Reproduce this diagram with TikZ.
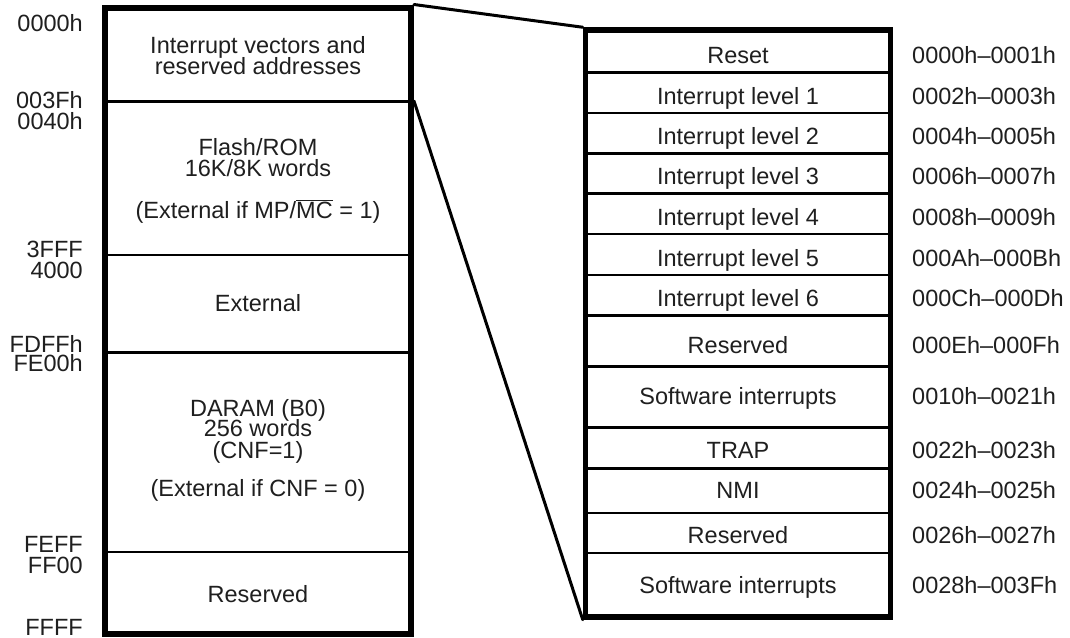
\documentclass[tikz,border=0pt]{standalone}
\usepackage{fontspec}
\setmainfont{Liberation Sans}
\begin{document}
\begin{tikzpicture}[x=1pt,y=-1pt,
  box/.style={draw=black, inner sep=0pt, fill=none},
  txt/.style={font=\fontsize{23.5}{26}\selectfont, text=black!88, inner sep=0pt, text height=17pt, text depth=0pt},
  lab/.style={txt, anchor=east},
  adr/.style={txt, anchor=west},
  thickdiv/.style={line width=3pt},
  thindiv/.style={line width=1.6pt},
  conn/.style={line width=3pt, line cap=round}]
\useasboundingbox (0,0) rectangle (1070,637);

% memory boxes
\node[box, line width=6pt, minimum width=306pt, minimum height=626.5pt] (L) at (258,320.75) {};
\node[box, line width=5.5pt, minimum width=305pt, minimum height=587pt] (R) at (738,323.5) {};

% left dividers
\path (0,101) coordinate (yA) (0,255) coordinate (yB) (0,352) coordinate (yC) (0,552) coordinate (yD);
\coordinate (dAw) at (L.west |- yA); \coordinate (dAe) at (L.east |- yA);
\draw[thickdiv] (dAw) -- (dAe);
\draw[thindiv] (L.west |- yB) -- (L.east |- yB);
\draw[thickdiv] (L.west |- yC) -- (L.east |- yC);
\draw[thindiv] (L.west |- yD) -- (L.east |- yD);

% right dividers
\foreach \y/\s in {72/thickdiv,113/thindiv,153/thickdiv,193/thickdiv,234/thindiv,275/thindiv,315/thickdiv,366/thickdiv,427/thickdiv,468/thickdiv,513/thindiv,553/thindiv}{
  \path (0,\y) coordinate (ry);
  \draw[\s] (R.west |- ry) -- (R.east |- ry);
}

% connectors
\draw[conn] (L.north east) -- (R.north west);
\draw[conn] (dAe) -- (R.south west);

% left address labels
\node[lab] (l1) at (83,23) {0000h};
\node[lab] (l2) at (83,100) {003Fh};
\node[lab] (l3) at (83,121) {0040h};
\node[lab] (l4) at (83,249) {3FFF};
\node[lab] (l5) at (83,270) {4000};
\node[lab] (l6) at (83,344) {FDFFh};
\node[lab] (l7) at (83,363) {FE00h};
\node[lab] (l8) at (83,544) {FEFF};
\node[lab] (l9) at (83,565) {FF00};
\node[lab] (l10) at (83,627) {FFFF};

% left box texts
\node[txt] (t1) at (258,45) {Interrupt vectors and};
\node[txt] (t2) at (258,65.5) {reserved addresses};
\node[txt] (t3) at (258,146.5) {Flash/ROM};
\node[txt] (t4) at (258,167.5) {16K/8K words};
\node[txt] (t5) at (258,209.5) {(External if MP/\(\overline{\hbox{MC}}\) = 1)};
\node[txt] (t6) at (258,303) {External};
\node[txt] (t7) at (258,407.5) {DARAM (B0)};
\node[txt] (t8) at (258,428) {256 words};
\node[txt] (t9) at (258,449.5) {(CNF=1)};
\node[txt] (t10) at (258,488) {(External if CNF = 0)};
\node[txt] (t11) at (258,593.5) {Reserved};

% right box texts and addresses
\foreach \n/\y/\a/\b in {
  1/54.5/Reset/0000h--0001h,
  2/96/Interrupt level 1/0002h--0003h,
  3/135.5/Interrupt level 2/0004h--0005h,
  4/176/Interrupt level 3/0006h--0007h,
  5/216.5/Interrupt level 4/0008h--0009h,
  6/257.5/Interrupt level 5/000Ah--000Bh,
  7/297.5/Interrupt level 6/000Ch--000Dh,
  8/344.5/Reserved/000Eh--000Fh,
  9/395.5/Software interrupts/0010h--0021h,
  10/449.5/TRAP/0022h--0023h,
  11/489.5/NMI/0024h--0025h,
  12/534.5/Reserved/0026h--0027h,
  13/584.5/Software interrupts/0028h--003Fh}{
  \node[txt] (r\n) at (738,\y) {\a};
  \node[adr] (a\n) at (912,\y) {\b};
}
\end{tikzpicture}
\end{document}
